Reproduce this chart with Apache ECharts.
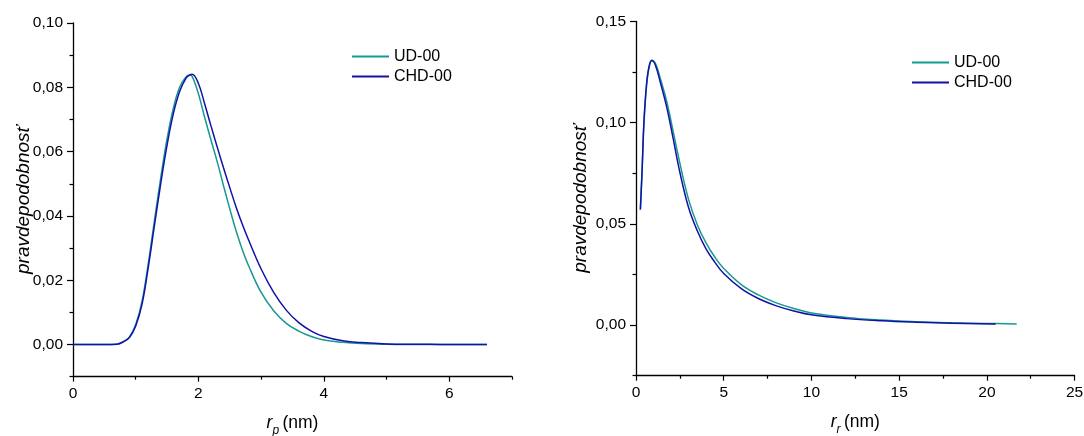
<!DOCTYPE html>
<html>
<head>
<meta charset="utf-8">
<script src="https://cdn.jsdelivr.net/npm/echarts@6/dist/echarts.min.js"></script>
<style>
html,body{margin:0;padding:0;background:#fff;}
#chart{width:1084px;height:436px;}
</style>
</head>
<body>
<div id="chart"></div>
<script>
// r_p panel
var rpX = [0,0.5,0.7,0.8,0.9,1.0,1.1,1.2,1.3,1.4,1.5,1.6,1.7,1.8,1.86,1.9,2.0,2.1,2.2,2.3,2.4,2.5,2.6,2.7,2.8,3.0,3.2,3.4,3.6,3.8,4.0,4.3,4.6,5.0,5.5,6.0,6.6];
var rpUD = [0,0,0.0001,0.0009,0.0024,0.0062,0.0134,0.0252,0.0388,0.0520,0.0640,0.0735,0.0800,0.0832,0.0838,0.0834,0.0780,0.0706,0.0636,0.0568,0.0494,0.0422,0.0354,0.0295,0.0245,0.0162,0.0105,0.0066,0.0042,0.0025,0.0014,0.0007,0.0003,0.0001,0,0,0];
var rpCHD = [0,0,0.0001,0.0008,0.0022,0.0058,0.0125,0.0240,0.0372,0.0502,0.0620,0.0718,0.0787,0.0828,0.0838,0.0841,0.0812,0.0748,0.0680,0.0614,0.0550,0.0488,0.0428,0.0374,0.0325,0.0235,0.0162,0.0107,0.0068,0.0042,0.0025,0.0012,0.0006,0.0002,0.0001,0,0];

// r_r panel
var rrX_CHD = [0.25,0.35,0.45,0.6,0.75,0.9,1.1,1.4,1.75,2.1,2.5,3,3.5,4,4.5,5,6,7,8,9,10,12,14,16,18,20.5];
var rrCHD = [0.057,0.077,0.100,0.119,0.128,0.1308,0.1285,0.1195,0.1077,0.0930,0.0755,0.0580,0.0465,0.0375,0.0310,0.0255,0.0180,0.0130,0.0095,0.0070,0.0051,0.0032,0.0021,0.0014,0.0009,0.0006];
var rrX_UD = [0.25,0.35,0.45,0.6,0.75,0.9,1.1,1.4,1.75,2.1,2.5,3,3.5,4,4.5,5,6,7,8,9,10,12,14,16,18,20,21.7];
var rrUD = [0.0575,0.077,0.099,0.118,0.1275,0.1305,0.1295,0.1215,0.1105,0.0965,0.0800,0.0620,0.0495,0.0405,0.0335,0.0280,0.0200,0.0148,0.0110,0.0082,0.0060,0.0038,0.0025,0.0016,0.0011,0.0008,0.0006];

// ticks
var rpXMajor = [0,2,4,6];
var rpXMinor = [1,3,5,7];
var rpYMajor = [0,0.02,0.04,0.06,0.08,0.10];
var rpYMinor = [-0.01,0.01,0.03,0.05,0.07,0.09];
var rrXMajor = [0,5,10,15,20,25];
var rrXMinor = [2.5,7.5,12.5,17.5,22.5];
var rrYMajor = [0,0.05,0.10,0.15];
var rrYMinor = [-0.025,0.025,0.075,0.125];

var names = ['UD-00','CHD-00'];
var colUD = '#17998f';
var colCHD = '#1212a8';
var FONT = 'Liberation Sans, Arial, sans-serif';

function pairs(xs, ys){
	var out = [];
	for (var i = 0; i < xs.length; i++) out.push([xs[i], ys[i]]);
	return out;
}
function fmtY(v){
	return v.toFixed(2).replace('.', ',');
}
function xAxisPair(gi, min, max, major, minor, sub){
	return [{
		type: 'value', gridIndex: gi, min: min, max: max, position: 'bottom',
		splitLine: {show: false},
		axisLine: {onZero: false, lineStyle: {color: '#000', width: 1.3}},
		axisTick: {customValues: major, length: 5, lineStyle: {color: '#000', width: 1.2}},
		axisLabel: {customValues: major, margin: 9, color: '#000', fontSize: 15.5, fontFamily: FONT},
		name: '{i|r}{s|' + sub + '} {t|(nm)}',
		nameLocation: 'middle', nameGap: 33, nameMoveOverlap: false,
		nameTextStyle: {
			fontFamily: FONT,
			rich: {
				i: {fontSize: 17.5, fontStyle: 'italic', color: '#000', fontFamily: FONT, lineHeight: 20},
				s: {fontSize: 12, fontStyle: 'italic', color: '#000', fontFamily: FONT, lineHeight: 27, verticalAlign: 'bottom'},
				t: {fontSize: 17.5, color: '#000', fontFamily: FONT, lineHeight: 20}
			}
		}
	}, {
		type: 'value', gridIndex: gi, min: min, max: max, position: 'bottom',
		splitLine: {show: false},
		axisLine: {show: false, onZero: false},
		axisTick: {customValues: minor, length: 3, lineStyle: {color: '#000', width: 1.2}},
		axisLabel: {show: false}
	}];
}
function yAxisPair(gi, min, max, major, minor, gap){
	return [{
		type: 'value', gridIndex: gi, min: min, max: max, position: 'left',
		splitLine: {show: false},
		axisLine: {show: true, onZero: false, lineStyle: {color: '#000', width: 1.3}},
		axisTick: {show: true, customValues: major, length: 6, lineStyle: {color: '#000', width: 1.2}},
		axisLabel: {customValues: major, margin: 10, color: '#000', fontSize: 15.5, fontFamily: FONT, formatter: fmtY},
		name: 'pravdepodobnosť',
		nameLocation: 'middle', nameGap: gap, nameRotate: 90, nameMoveOverlap: false,
		nameTextStyle: {fontSize: 19, fontStyle: 'italic', color: '#000', fontFamily: FONT}
	}, {
		type: 'value', gridIndex: gi, min: min, max: max, position: 'left',
		splitLine: {show: false},
		axisLine: {show: false, onZero: false},
		axisTick: {show: true, customValues: minor, length: 3.5, lineStyle: {color: '#000', width: 1.2}},
		axisLabel: {show: false}
	}];
}
function line(name, xi, yi, data, color){
	return {
		name: name, type: 'line', xAxisIndex: xi, yAxisIndex: yi,
		data: data, symbol: 'none', smooth: 0.4,
		lineStyle: {color: color, width: 1.5},
		itemStyle: {color: color},
		animation: false
	};
}

var chart = echarts.init(document.getElementById('chart'), null, {renderer: 'canvas'});
var option = {
	backgroundColor: '#fff',
	animation: false,
	grid: [
		{left: 73, top: 23, width: 439, height: 353.7, outerBoundsMode: 'none', containLabel: false},
		{left: 636, top: 21.5, width: 438.6, height: 354.2, outerBoundsMode: 'none', containLabel: false}
	],
	legend: [{
		data: names, orient: 'vertical', left: 347, top: 43,
		icon: 'rect', itemWidth: 37, itemHeight: 2, itemGap: 3,
		textStyle: {fontSize: 16, color: '#000', fontFamily: FONT, lineHeight: 17}
	}, {
		data: names, orient: 'vertical', left: 907, top: 49,
		icon: 'rect', itemWidth: 37, itemHeight: 2, itemGap: 3,
		textStyle: {fontSize: 16, color: '#000', fontFamily: FONT, lineHeight: 17}
	}],
	xAxis: [].concat(
		xAxisPair(0, 0, 7, rpXMajor, rpXMinor, 'p'),
		xAxisPair(1, 0, 25, rrXMajor, rrXMinor, 'r')
	),
	yAxis: [].concat(
		yAxisPair(0, -0.01, 0.10, rpYMajor, rpYMinor, 40),
		yAxisPair(1, -0.025, 0.15, rrYMajor, rrYMinor, 46)
	),
	series: [
		line('UD-00', 0, 0, pairs(rpX, rpUD), colUD),
		line('CHD-00', 0, 0, pairs(rpX, rpCHD), colCHD),
		line('UD-00', 2, 2, pairs(rrX_UD, rrUD), colUD),
		line('CHD-00', 2, 2, pairs(rrX_CHD, rrCHD), colCHD)
	]
};
chart.setOption(option);
</script>
</body>
</html>
